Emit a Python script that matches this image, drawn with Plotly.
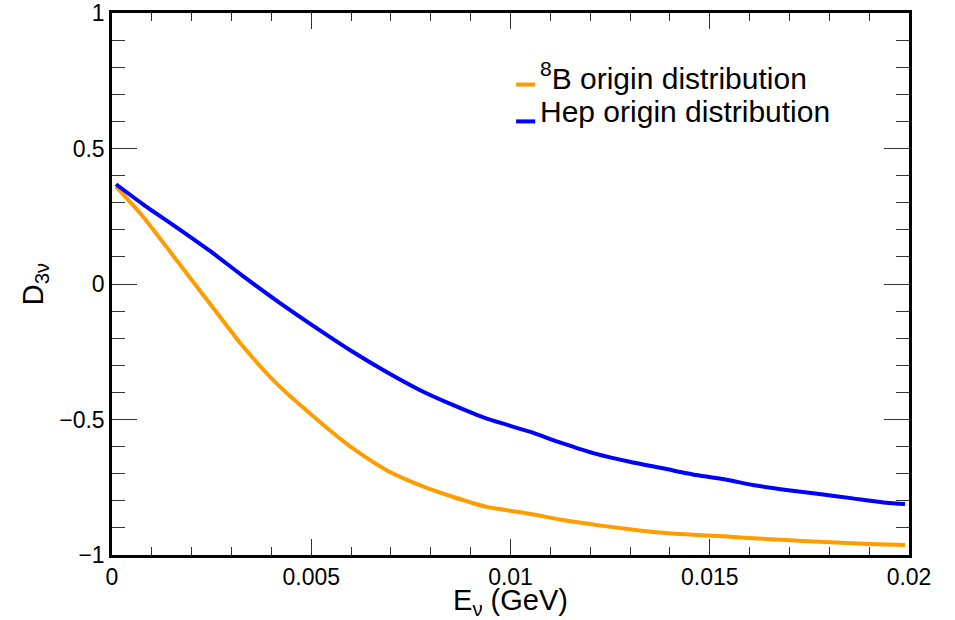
import plotly.graph_objects as go

# Energy (GeV)
energy = [0.0001, 0.00077, 0.00161, 0.00245, 0.00328, 0.00412, 0.00521, 0.00604,
          0.00688, 0.00772, 0.00855, 0.00939, 0.01048, 0.01131, 0.01215, 0.01299,
          0.01382, 0.01466, 0.01545, 0.01608, 0.01692, 0.01775, 0.01859, 0.01943, 0.0199]

# D_3nu for 8B origin distribution
d_b8 = [0.359, 0.250, 0.090, -0.071, -0.229, -0.366, -0.508, -0.606,
        -0.686, -0.742, -0.785, -0.822, -0.848, -0.871, -0.889, -0.905,
        -0.918, -0.926, -0.932, -0.938, -0.945, -0.951, -0.957, -0.961, -0.963]

# D_3nu for Hep origin distribution
d_hep = [0.368, 0.295, 0.210, 0.123, 0.030, -0.060, -0.170, -0.250,
         -0.324, -0.391, -0.446, -0.496, -0.545, -0.588, -0.627, -0.656,
         -0.680, -0.705, -0.723, -0.742, -0.760, -0.775, -0.791, -0.807, -0.812]

series_names = ["<sup>8</sup>B origin distribution", "Hep origin distribution"]
series_colors = ["#ff9d00", "#0000ff"]

x_ticks = [0, 0.005, 0.01, 0.015, 0.02]
x_ticklabels = ["0", "0.005", "0.01", "0.015", "0.02"]
y_ticks = [-1, -0.5, 0, 0.5, 1]
y_ticklabels = ["\u22121", "\u22120.5", "0", "0.5", "1"]

FONT = "Liberation Sans, Arial, Helvetica, sans-serif"

fig = go.Figure()
for yv, nm, col in zip([d_b8, d_hep], series_names, series_colors):
    fig.add_trace(go.Scatter(x=energy, y=yv, mode="lines",
                             line=dict(color=col, width=4, shape="spline", smoothing=0.6),
                             name=nm, showlegend=False))

axis_common = dict(showgrid=False, zeroline=False, showline=True, linecolor="black",
                   linewidth=2.5, mirror="ticks", ticks="inside", tickcolor="#333333",
                   tickwidth=1, automargin=False,
                   tickfont=dict(size=23, color="black", family=FONT))

fig.update_xaxes(range=[0, 0.02], tickvals=x_ticks, ticktext=x_ticklabels,
                 ticklen=16,
                 minor=dict(dtick=0.001, ticks="inside", ticklen=8, tickcolor="#333333", tickwidth=1),
                 title=dict(text="E<sub>\u03bd</sub> (GeV)", font=dict(size=29, family=FONT, color="black"),
                            standoff=8),
                 **axis_common)
fig.update_yaxes(range=[-1, 1], tickvals=y_ticks, ticktext=y_ticklabels,
                 ticklen=25,
                 minor=dict(dtick=0.1, ticks="inside", ticklen=13, tickcolor="#333333", tickwidth=1),
                 title=dict(text="D<sub>3\u03bd</sub>", font=dict(size=29, family=FONT, color="black"),
                            standoff=8),
                 **axis_common)

# Legend drawn as short line samples + text (ROOT-like compact legend)
legend_line_y = [0.868, 0.800]
legend_text_y = [0.884, 0.818]
for i, (nm, col) in enumerate(zip(series_names, series_colors)):
    fig.add_shape(type="line", xref="paper", yref="paper",
                  x0=0.507, x1=0.531, y0=legend_line_y[i], y1=legend_line_y[i],
                  line=dict(color=col, width=4))
    fig.add_annotation(xref="paper", yref="paper", x=0.535, y=legend_text_y[i],
                       xanchor="left", yanchor="middle", showarrow=False, text=nm,
                       font=dict(size=30, family=FONT, color="black"))

fig.update_layout(
    width=955, height=620,
    margin=dict(l=112, r=46, t=13, b=65),
    paper_bgcolor="white", plot_bgcolor="white",
    font=dict(family=FONT, color="black"),
    showlegend=False,
)

fig.write_html("out.html")
